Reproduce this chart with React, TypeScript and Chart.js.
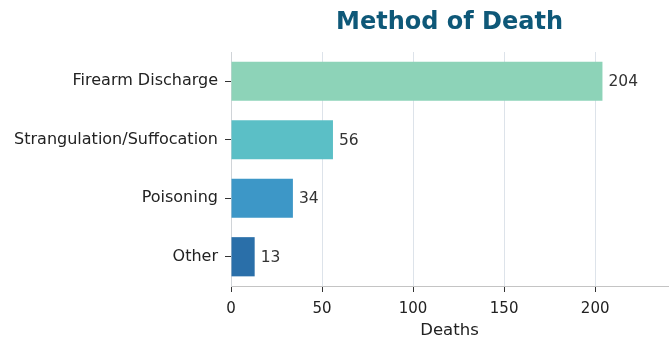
import React, { useEffect, useRef } from "react";
import { Chart, registerables } from "chart.js";

Chart.register(...registerables);

const categories = ["Firearm Discharge", "Strangulation/Suffocation", "Poisoning", "Other"];
const deaths = [204, 56, 34, 13];
const barColors = ["#8dd3b8", "#5bbfc6", "#3d97c7", "#2a6fa9"];
const xTicks = [0, 50, 100, 150, 200];
const titleText = "Method of Death";

const FONT = "'DejaVu Sans', sans-serif";

const valueLabels = {
  id: "valueLabels",
  afterDatasetsDraw(chart: any) {
    const ctx = chart.ctx;
    const meta = chart.getDatasetMeta(0);
    ctx.save();
    ctx.font = `15.5px ${FONT}`;
    ctx.fillStyle = "#333333";
    ctx.textAlign = "left";
    ctx.textBaseline = "middle";
    meta.data.forEach((bar: any, i: number) => {
      ctx.fillText(String(deaths[i]), bar.x + 6, bar.y + 1);
    });
    ctx.restore();
  },
};

const centeredTitle = {
  id: "centeredTitle",
  afterDraw(chart: any) {
    const ctx = chart.ctx;
    const area = chart.chartArea;
    ctx.save();
    ctx.font = `bold 24px ${FONT}`;
    ctx.fillStyle = "#0e5878";
    ctx.textAlign = "center";
    ctx.textBaseline = "middle";
    ctx.fillText(titleText, (area.left + area.right) / 2, 23);
    ctx.restore();
  },
};

export default function App() {
  const ref = useRef<HTMLCanvasElement>(null);
  useEffect(() => {
    document.body.style.margin = "0";
    let chart: any = null;
    let cancelled = false;
    const build = () => {
      if (cancelled || !ref.current) return;
      chart = new Chart(ref.current, {
        type: "bar",
        data: {
          labels: categories,
          datasets: [
            {
              data: deaths,
              backgroundColor: barColors,
              borderWidth: 0,
              barPercentage: 0.67,
              categoryPercentage: 1,
            },
          ],
        },
        plugins: [valueLabels, centeredTitle],
        options: {
          indexAxis: "y",
          animation: false,
          responsive: false,
          devicePixelRatio: 1,
          layout: { padding: { left: 0, right: 4, top: 52, bottom: 0 } },
          plugins: {
            legend: { display: false },
            tooltip: { enabled: false },
            title: { display: false },
          },
          scales: {
            x: {
              min: 0,
              max: 240,
              afterBuildTicks: (scale: any) => {
                scale.ticks = xTicks.map((v) => ({ value: v }));
              },
              afterFit: (scale: any) => {
                scale.height = 53;
              },
              grid: {
                color: "#dde3ea",
                lineWidth: 1,
                drawOnChartArea: true,
                drawTicks: true,
                tickColor: "#333333",
                tickLength: 6,
              },
              border: { display: true, color: "#c4c4c4", width: 1 },
              ticks: {
                color: "#222222",
                font: { family: FONT, size: 15 },
                padding: 8,
              },
              title: {
                display: true,
                text: "Deaths",
                color: "#222222",
                font: { family: FONT, size: 16.5, lineHeight: 1 },
                padding: { top: 0, bottom: 0 },
              },
            },
            y: {
              afterFit: (scale: any) => {
                scale.width = 231;
              },
              grid: {
                offset: false,
                drawOnChartArea: false,
                drawTicks: true,
                tickColor: "#333333",
                tickLength: 6,
              },
              border: { display: true, color: "#d0d4d8", width: 1 },
              ticks: {
                color: "#222222",
                font: { family: FONT, size: 16 },
                padding: 7,
              },
            },
          },
        },
      } as any);
    };
    const fonts: any = (document as any).fonts;
    if (fonts && fonts.load) {
      Promise.all([
        fonts.load(`16px 'DejaVu Sans'`),
        fonts.load(`bold 24px 'DejaVu Sans'`),
      ])
        .catch(() => {})
        .then(build);
    } else {
      build();
    }
    return () => {
      cancelled = true;
      if (chart) chart.destroy();
    };
  }, []);
  return (
    <div style={{ width: 672, height: 339 }}>
      <canvas ref={ref} width={672} height={339} style={{ display: "block" }} />
    </div>
  );
}
